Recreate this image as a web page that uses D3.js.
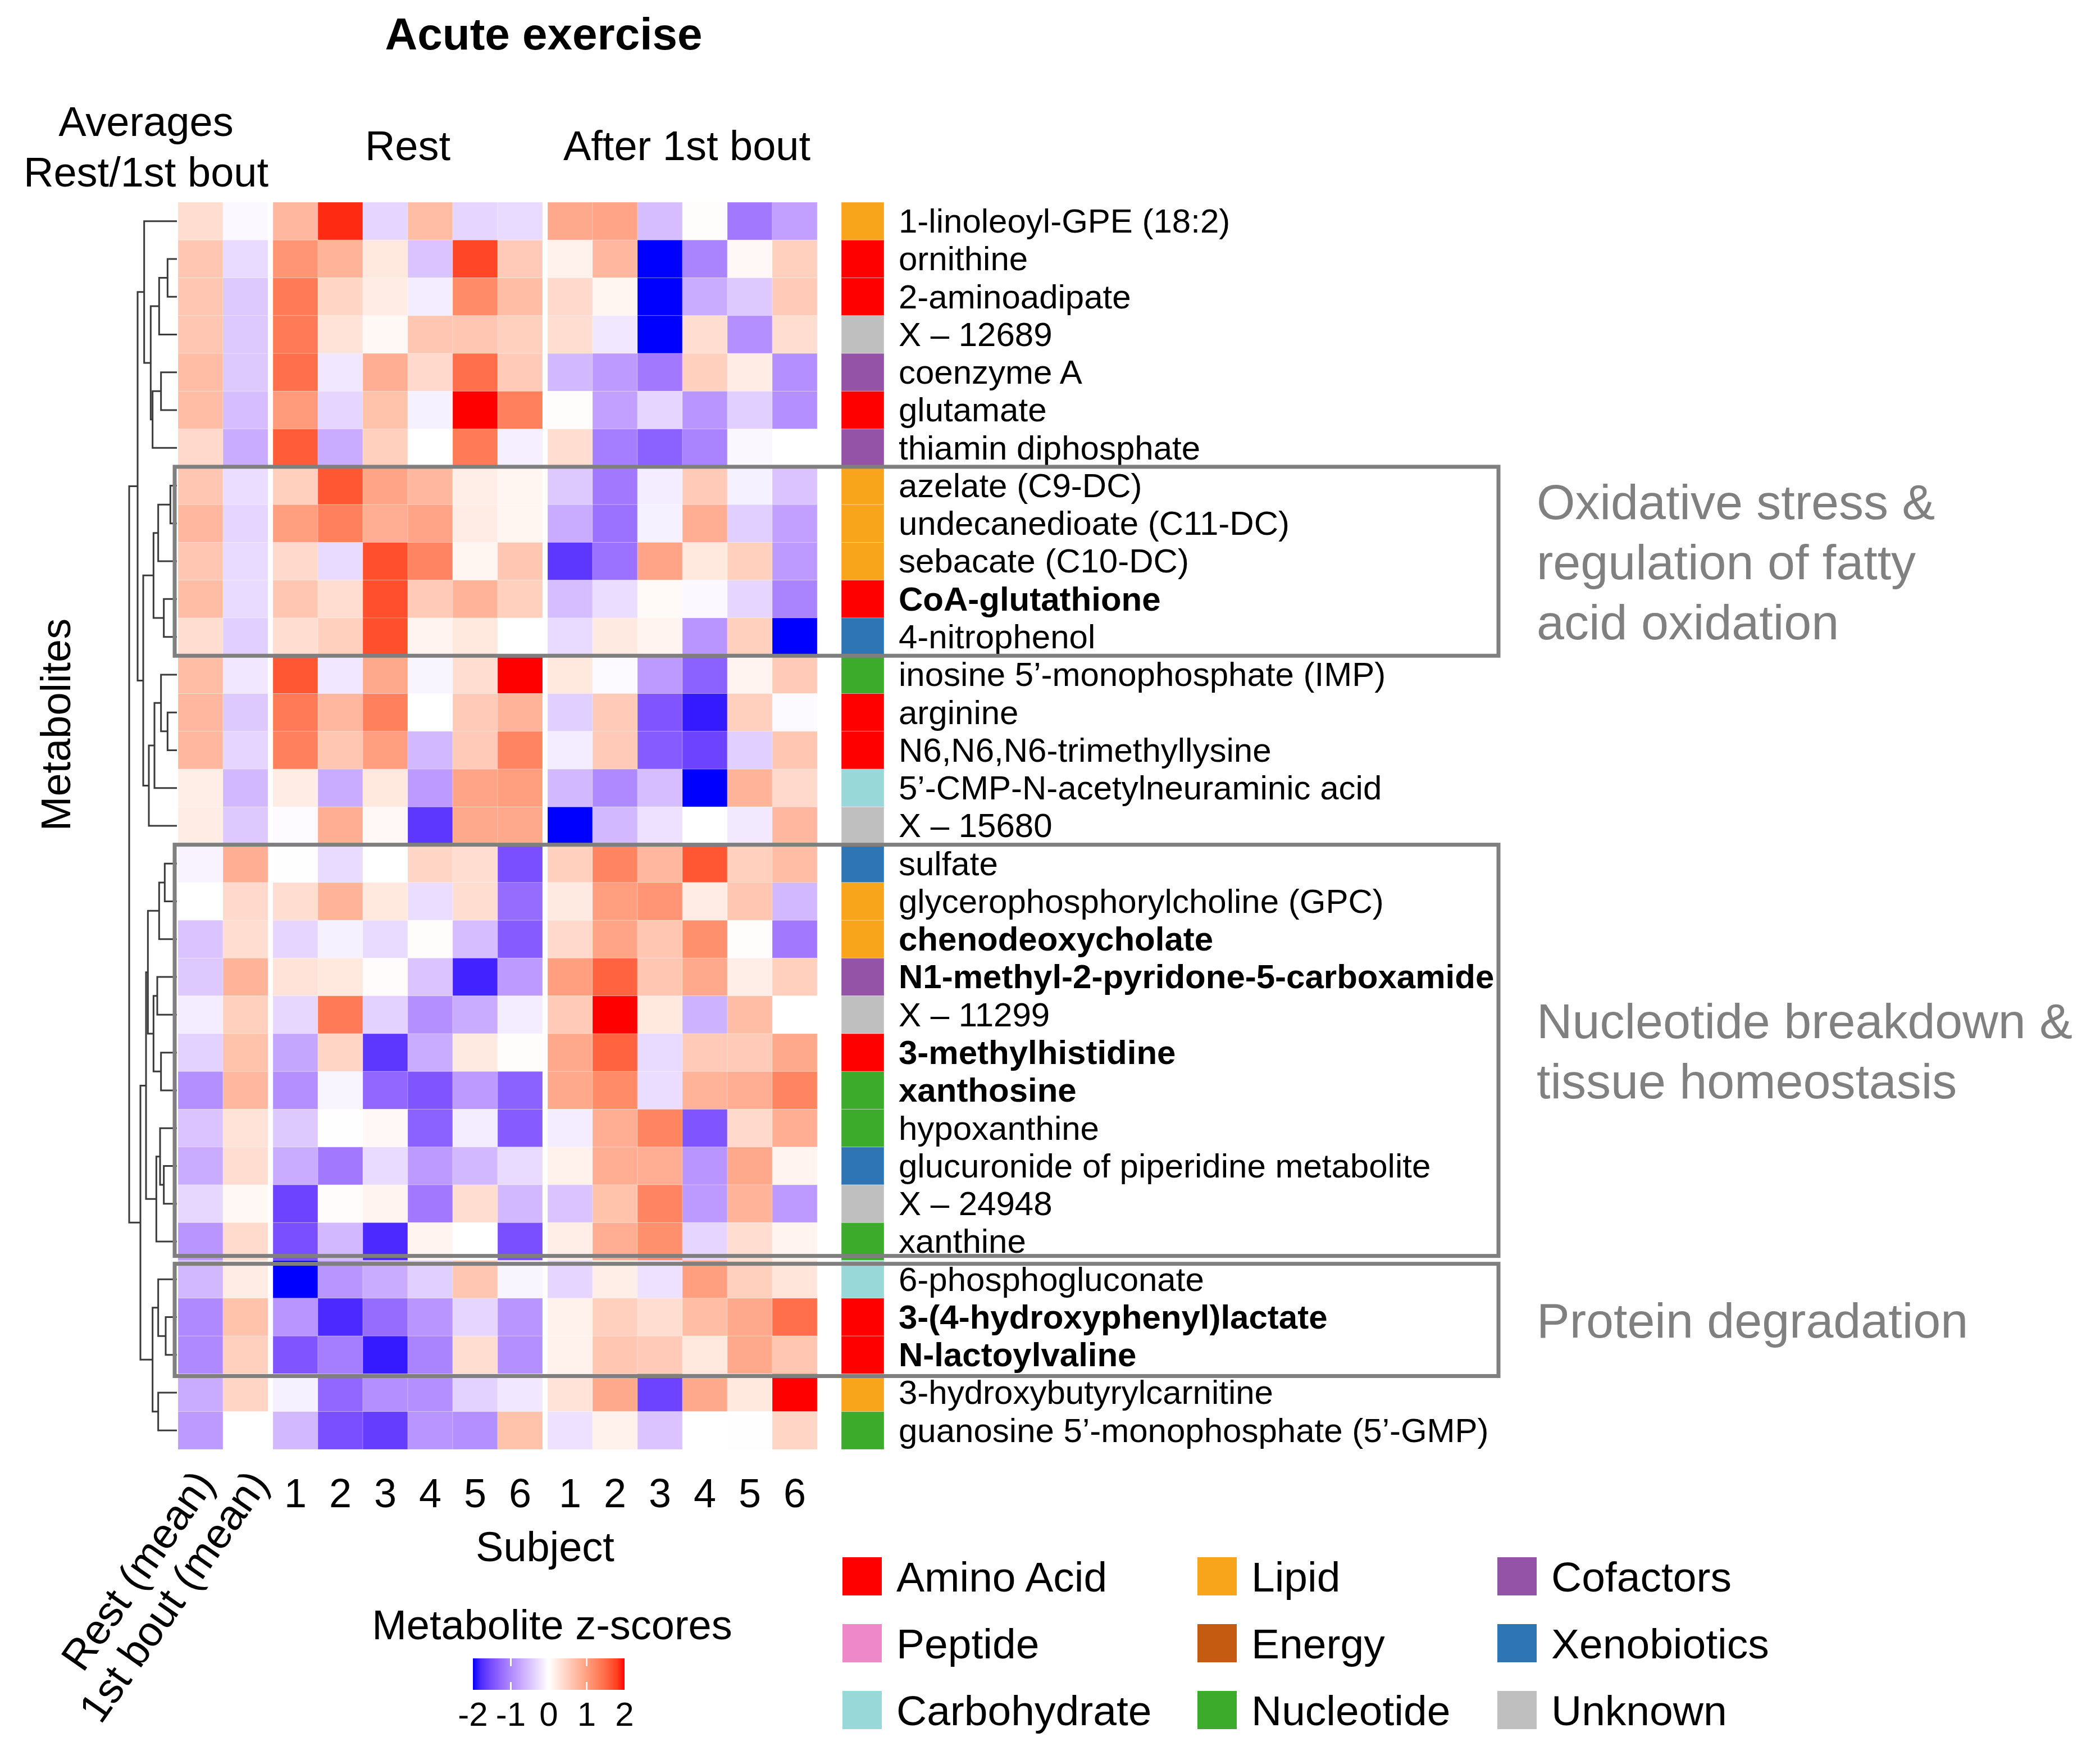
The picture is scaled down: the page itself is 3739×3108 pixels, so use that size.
<!DOCTYPE html>
<html><head><meta charset="utf-8">
<script src="https://cdn.jsdelivr.net/npm/d3@7"></script>
<style>body{margin:0;background:#fff} text{font-family:"Liberation Sans",Arial,Helvetica,sans-serif}</style>
</head><body><svg id="c" width="3739" height="3108"></svg>
<script>
// ---------------- DATA ----------------
const metabolites = ["1-linoleoyl-GPE (18:2)","ornithine","2-aminoadipate","X – 12689","coenzyme A","glutamate","thiamin diphosphate",
 "azelate (C9-DC)","undecanedioate (C11-DC)","sebacate (C10-DC)","CoA-glutathione","4-nitrophenol",
 "inosine 5’-monophosphate (IMP)","arginine","N6,N6,N6-trimethyllysine","5’-CMP-N-acetylneuraminic acid","X – 15680",
 "sulfate","glycerophosphorylcholine (GPC)","chenodeoxycholate","N1-methyl-2-pyridone-5-carboxamide","X – 11299",
 "3-methylhistidine","xanthosine","hypoxanthine","glucuronide of piperidine metabolite","X – 24948","xanthine",
 "6-phosphogluconate","3-(4-hydroxyphenyl)lactate","N-lactoylvaline","3-hydroxybutyrylcarnitine","guanosine 5’-monophosphate (5’-GMP)"];
const superPathway = ["Lipid","Amino Acid","Amino Acid","Unknown","Cofactors","Amino Acid","Cofactors",
 "Lipid","Lipid","Lipid","Amino Acid","Xenobiotics",
 "Nucleotide","Amino Acid","Amino Acid","Carbohydrate","Unknown",
 "Xenobiotics","Lipid","Lipid","Cofactors","Unknown",
 "Amino Acid","Nucleotide","Nucleotide","Xenobiotics","Unknown","Nucleotide",
 "Carbohydrate","Amino Acid","Amino Acid","Lipid","Nucleotide"];
const boldMetabolites = ["CoA-glutathione","chenodeoxycholate","N1-methyl-2-pyridone-5-carboxamide","3-methylhistidine","xanthosine","3-(4-hydroxyphenyl)lactate","N-lactoylvaline"];

const meanLabels = ["Rest (mean)","1st bout (mean)"];
const subjects = ["1","2","3","4","5","6"];

const restMean = [0.35,0.6,0.6,0.6,0.7,0.7,0.4, 0.6,0.75,0.6,0.7,0.35, 0.7,0.75,0.75,0.18,0.2,
 -0.1,0.0,-0.5,-0.45,-0.15,-0.38,-0.95,-0.5,-0.7,-0.33,-0.9, -0.6,-1.0,-1.0,-0.7,-0.85];
const boutMean = [-0.05,-0.3,-0.45,-0.45,-0.45,-0.55,-0.7, -0.28,-0.35,-0.3,-0.3,-0.4, -0.2,-0.45,-0.35,-0.6,-0.45,
 0.85,0.4,0.35,0.8,0.5,0.65,0.75,0.3,0.35,0.08,0.38, 0.2,0.65,0.5,0.45,0.0];

const restSubjects = [
 [0.75,1.9,-0.35,0.7,-0.35,-0.3],
 [1.1,0.8,0.25,-0.5,1.75,0.55],
 [1.35,0.45,0.2,-0.15,1.2,0.7],
 [1.35,0.3,0.08,0.6,0.6,0.5],
 [1.45,-0.2,0.85,0.4,1.45,0.55],
 [1.05,-0.35,0.65,-0.12,2.1,1.3],
 [1.6,-0.7,0.5,0.0,1.35,-0.13],
 [0.5,1.65,0.95,0.75,0.18,0.1],
 [1.0,1.3,0.85,0.95,0.2,0.1],
 [0.4,-0.3,1.7,1.25,0.1,0.6],
 [0.6,0.35,1.7,0.55,0.8,0.5],
 [0.35,0.5,1.7,0.12,0.25,0.0],
 [1.65,-0.2,0.9,-0.08,0.35,2.1],
 [1.35,0.75,1.3,0.0,0.55,0.8],
 [1.3,0.6,1.0,-0.6,0.55,1.25],
 [0.2,-0.7,0.25,-0.85,0.95,1.0],
 [-0.03,0.85,0.07,-1.7,0.9,0.9],
 [-0.02,-0.3,0.0,0.45,0.35,-1.5],
 [0.35,0.8,0.25,-0.28,0.35,-1.25],
 [-0.35,-0.12,-0.3,0.02,-0.55,-1.4],
 [0.3,0.25,0.03,-0.5,-1.85,-0.85],
 [-0.33,1.35,-0.38,-0.95,-0.7,-0.15],
 [-0.75,0.45,-1.7,-0.7,0.22,0.02],
 [-0.95,-0.08,-1.3,-1.45,-0.85,-1.35],
 [-0.45,-0.02,0.07,-1.35,-0.15,-1.4],
 [-0.7,-1.15,-0.3,-0.85,-0.6,-0.3],
 [-1.6,0.03,0.12,-1.15,0.35,-0.6],
 [-1.5,-0.6,-1.8,0.12,0.0,-1.5],
 [-2.2,-0.9,-0.7,-0.4,0.6,-0.08],
 [-0.9,-1.8,-1.25,-0.9,-0.35,-0.9],
 [-1.45,-1.1,-1.9,-1.05,0.35,-0.95],
 [-0.12,-1.3,-0.95,-0.95,-0.38,-0.2],
 [-0.6,-1.5,-1.65,-0.9,-0.95,0.65]];

const boutSubjects = [
 [0.9,0.95,-0.55,0.02,-1.15,-0.8],
 [0.15,0.75,-2.2,-1.05,0.07,0.5],
 [0.4,0.1,-2.2,-0.7,-0.45,0.55],
 [0.35,-0.2,-2.2,0.35,-0.95,0.35],
 [-0.6,-0.85,-1.15,0.5,0.2,-0.95],
 [0.02,-0.8,-0.35,-0.9,-0.4,-0.95],
 [0.35,-1.1,-1.35,-1.05,-0.07,0.0],
 [-0.45,-1.15,-0.15,0.55,-0.12,-0.5],
 [-0.7,-1.2,-0.12,0.85,-0.4,-0.8],
 [-1.7,-1.2,0.95,0.25,0.5,-0.85],
 [-0.55,-0.28,0.05,-0.06,-0.35,-1.05],
 [-0.3,0.22,0.12,-0.9,0.5,-2.2],
 [0.25,-0.04,-0.85,-1.35,0.12,0.55],
 [-0.4,0.55,-1.45,-1.9,0.5,-0.04],
 [-0.15,0.55,-1.4,-1.6,-0.4,0.6],
 [-0.6,-1.0,-0.55,-2.2,0.8,0.4],
 [-2.2,-0.6,-0.25,0.0,-0.18,0.75],
 [0.5,1.25,0.75,1.65,0.5,0.7],
 [0.22,1.0,1.1,0.2,0.6,-0.6],
 [0.4,0.95,0.6,1.15,0.02,-1.15],
 [1.0,1.55,0.6,0.9,0.18,0.5],
 [0.55,2.1,0.25,-0.65,0.7,0.0],
 [0.9,1.55,-0.3,0.55,0.55,0.9],
 [0.9,1.2,-0.28,0.8,0.85,1.25],
 [-0.15,0.85,1.25,-1.45,0.4,0.85],
 [0.15,0.85,0.85,-0.9,0.9,0.12],
 [-0.5,0.65,1.25,-0.85,0.8,-0.85],
 [0.18,0.85,1.15,-0.35,0.35,0.12],
 [-0.35,0.18,-0.25,1.0,0.5,0.28],
 [0.15,0.5,0.35,0.7,0.9,1.45],
 [0.15,0.6,0.55,0.25,0.9,0.6],
 [0.3,0.9,-1.6,0.9,0.25,2.1],
 [-0.25,0.15,-0.5,0.0,-0.02,0.45]];

// hierarchical clustering of rows: [height, left, right]; leaves are row indices
const rowDendrogram = [255,
  [210,
    [175, 0, [140, [95, [50, 1, 2], 3], [130, [85, 4, 5], 6]]],
    [180, [125, [100, [35, 7, 8], 9], [70, 10, 11]],
          [150, [120, [85, 12, [50, 13, 14]], 15], 16]]],
  [195,
    [165, [155, [95, [65, 17, 18], 19], [125, [105, 20, 21], [85, 22, 23]]],
          [110, [90, 24, [70, 25, 26]], 27]],
    [130, [100, 28, [60, 29, 30]], [100, 31, 32]]]];

const categoryNames = ["Amino Acid","Peptide","Carbohydrate","Lipid","Energy","Nucleotide","Cofactors","Xenobiotics","Unknown"];
const categoryColors = ["#FF0000","#EE88C8","#99D8D8","#F8A51B","#C55A11","#3CAA2A","#9453A6","#2E75B6","#BFBFBF"];

const clusterNames = [["Oxidative stress &","regulation of fatty","acid oxidation"],["Nucleotide breakdown &","tissue homeostasis"],["Protein degradation"]];
const clusterFirst = ["azelate (C9-DC)","sulfate","6-phosphogluconate"];
const clusterLast = ["4-nitrophenol","xanthine","N-lactoylvaline"];

const zTicks = [-2,-1,0,1,2];

// ---------------- DRAW ----------------
const svg = d3.select("#c");
const colKeys = d3.range(14);
const colGroup = i => i < 2 ? 0 : (i < 8 ? 1 : 2);
const gap = 9;
const xBand = d3.scaleBand().domain(colKeys).range([317, 317 + 14 * 80]);
const gOff = d3.scaleOrdinal().domain([0,1,2]).range([0, gap, 2 * gap]);
const xCol = i => xBand(i) + gOff(colGroup(i));
const y = d3.scaleBand().domain(metabolites).range([360, 2580]);
const color = d3.scaleLinear().domain([-2,0,2]).range(["#0000FF","#FFFFFF","#FF0000"]).interpolate(d3.interpolateLab).clamp(true);

// cells
const cells = [];
metabolites.forEach((m, r) => {
  const vals = [restMean[r], boutMean[r], ...restSubjects[r], ...boutSubjects[r]];
  vals.forEach((v, c) => cells.push({m, c, v}));
});
svg.append("g").selectAll("rect").data(cells).join("rect")
  .attr("x", d => xCol(d.c)).attr("y", d => y(d.m))
  .attr("width", xBand.bandwidth()).attr("height", y.bandwidth())
  .attr("fill", d => color(d.v))
  .attr("stroke", "#ffffff").attr("stroke-opacity", 0.25).attr("stroke-width", 1);

// annotation swatches
const catColor = d3.scaleOrdinal().domain(categoryNames).range(categoryColors);
svg.append("g").selectAll("rect").data(metabolites).join("rect")
  .attr("x", 1498).attr("y", d => y(d)).attr("width", 76).attr("height", y.bandwidth())
  .attr("fill", (d, i) => catColor(superPathway[i]))
  .attr("stroke", "#ffffff").attr("stroke-opacity", 0.35).attr("stroke-width", 1);

// row labels
svg.append("g").selectAll("text").data(metabolites).join("text")
  .attr("x", 1600).attr("y", d => y(d) + y.bandwidth() / 2)
  .attr("dy", "0.34em").attr("font-size", 60)
  .attr("font-weight", d => boldMetabolites.includes(d) ? "bold" : "normal")
  .attr("fill", "#000").text(d => d);

// dendrogram
const dx = d3.scaleLinear().domain([0, 255]).range([315, 230]);
const p = d3.path();
function walk(node) {
  if (!Array.isArray(node)) return {y: y(metabolites[node]) + y.bandwidth() / 2, h: 0};
  const [h, a, b] = node;
  const A = walk(a), B = walk(b);
  p.moveTo(dx(A.h), A.y); p.lineTo(dx(h), A.y); p.lineTo(dx(h), B.y); p.lineTo(dx(B.h), B.y);
  return {y: (A.y + B.y) / 2, h};
}
walk(rowDendrogram);
svg.append("path").attr("d", p.toString()).attr("fill", "none").attr("stroke", "#3a3a3a").attr("stroke-width", 3);

// cluster boxes
const boxTopAdj = [0, 0, 6], boxBotAdj = [0, -8, 4];
clusterNames.forEach((lines, k) => {
  const top = y(clusterFirst[k]) + boxTopAdj[k];
  const bot = y(clusterLast[k]) + y.bandwidth() + boxBotAdj[k];
  svg.append("rect").attr("x", 311).attr("y", top).attr("width", 2668 - 311).attr("height", bot - top)
    .attr("fill", "none").attr("stroke", "#7f7f7f").attr("stroke-width", 7);
  const cy = (top + bot) / 2;
  const lh = 107;
  lines.forEach((t, j) => {
    svg.append("text").attr("x", 2736).attr("y", cy + (j - (lines.length - 1) / 2) * lh)
      .attr("dy", "0.36em").attr("font-size", 88).attr("fill", "#808080").text(t);
  });
});

// headers
svg.append("text").attr("x", 968).attr("y", 88).attr("text-anchor", "middle")
  .attr("font-size", 80).attr("font-weight", "bold").text("Acute exercise");
svg.append("text").attr("x", 260).attr("y", 242).attr("text-anchor", "middle").attr("font-size", 74).text("Averages");
svg.append("text").attr("x", 260).attr("y", 332).attr("text-anchor", "middle").attr("font-size", 74).text("Rest/1st bout");
const restCenter = (xCol(2) + xCol(7) + xBand.bandwidth()) / 2;
const afterCenter = (xCol(8) + xCol(13) + xBand.bandwidth()) / 2;
svg.append("text").attr("x", restCenter).attr("y", 285).attr("text-anchor", "middle").attr("font-size", 74).text("Rest");
svg.append("text").attr("x", afterCenter + 8).attr("y", 285).attr("text-anchor", "middle").attr("font-size", 74).text("After 1st bout");

// column labels
const subjCols = d3.range(2, 14);
svg.append("g").selectAll("text").data(subjCols).join("text")
  .attr("x", c => xCol(c) + xBand.bandwidth() / 2).attr("y", 2683)
  .attr("text-anchor", "middle").attr("font-size", 72)
  .text(c => subjects[(c - 2) % 6]);
const rotOff = [6, 22];
svg.append("g").selectAll("text").data([0, 1]).join("text")
  .attr("transform", c => `translate(${xCol(c) + xBand.bandwidth() / 2 + rotOff[c]},2626) rotate(-55)`)
  .attr("text-anchor", "end").attr("dy", "0.35em").attr("font-size", 75)
  .text(c => meanLabels[c]);
svg.append("text").attr("x", (xCol(2) + xCol(13) + xBand.bandwidth()) / 2).attr("y", 2779)
  .attr("text-anchor", "middle").attr("font-size", 74).text("Subject");
svg.append("text").attr("transform", "translate(98,1290) rotate(-90)")
  .attr("text-anchor", "middle").attr("dy", "0.36em").attr("font-size", 74).text("Metabolites");

// color key
svg.append("text").attr("x", 983).attr("y", 2918).attr("text-anchor", "middle").attr("font-size", 74).text("Metabolite z-scores");
const kx = d3.scaleLinear().domain([-2, 2]).range([842, 1112]);
const defs = svg.append("defs");
const grad = defs.append("linearGradient").attr("id", "zgrad").attr("x1", "0%").attr("x2", "100%");
d3.range(0, 1.0001, 0.05).forEach(t => {
  grad.append("stop").attr("offset", (t * 100) + "%").attr("stop-color", color(-2 + 4 * t));
});
svg.append("rect").attr("x", kx(-2)).attr("y", 2952).attr("width", kx(2) - kx(-2)).attr("height", 56).attr("fill", "url(#zgrad)");
[-1, 1].forEach(v => {
  svg.append("line").attr("x1", kx(v)).attr("x2", kx(v)).attr("y1", 2952).attr("y2", 2966).attr("stroke", "#fff").attr("stroke-width", 3);
  svg.append("line").attr("x1", kx(v)).attr("x2", kx(v)).attr("y1", 2994).attr("y2", 3008).attr("stroke", "#fff").attr("stroke-width", 3);
});
svg.append("g").selectAll("text").data(zTicks).join("text")
  .attr("x", d => kx(d)).attr("y", 3072).attr("text-anchor", "middle").attr("font-size", 60).text(d => d);

// category legend
const legX = [1500, 2132, 2666], legY = [2806, 2925, 3044];
const leg = svg.append("g").selectAll("g").data(categoryNames).join("g")
  .attr("transform", (d, i) => `translate(${legX[Math.floor(i / 3)]},${legY[i % 3]})`);
leg.append("rect").attr("x", 0).attr("y", -34).attr("width", 70).attr("height", 68).attr("fill", d => catColor(d));
leg.append("text").attr("x", 96).attr("dy", "0.36em").attr("font-size", 75).text(d => d);
</script></body></html>
